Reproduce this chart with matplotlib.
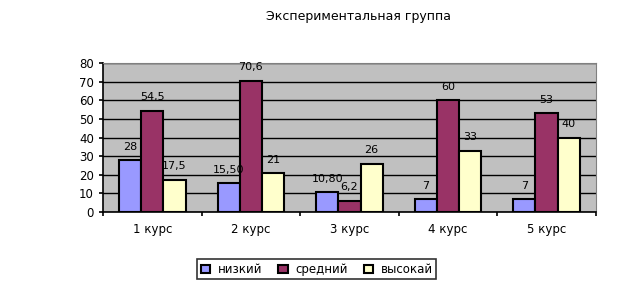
import matplotlib.pyplot as plt
import numpy as np

plt.rcParams['font.family'] = ['DejaVu Sans']

courses = ['1 курс', '2 курс', '3 курс', '4 курс', '5 курс']
series = ['низкий', 'средний', 'высокай']
low = [28, 15.5, 10.8, 7, 7]
mid = [54.5, 70.6, 6.2, 60, 53]
high = [17.5, 21, 26, 33, 40]
low_txt = ['28', '15,50', '10,80', '7', '7']
mid_txt = ['54,5', '70,6', '6,2', '60', '53']
high_txt = ['17,5', '21', '26', '33', '40']
colors = ['#9999FF', '#993366', '#FFFFCC']

fig = plt.figure(figsize=(6.4, 2.95), dpi=100)
ax = fig.add_axes([0.161, 0.281, 0.77, 0.505])
ax.set_facecolor('#C0C0C0')

x = np.arange(len(courses))
w = 0.225
for i, (vals, txts) in enumerate([(low, low_txt), (mid, mid_txt), (high, high_txt)]):
    bars = ax.bar(x + (i - 1) * w, vals, w, color=colors[i], edgecolor='black',
                  linewidth=1.5, label=series[i], zorder=3)
    for b, t in zip(bars, txts):
        ax.annotate(t, (b.get_x() + b.get_width() / 2, b.get_height()),
                    xytext=(0, 6), textcoords='offset points',
                    ha='center', va='bottom', fontsize=8, zorder=4)

ax.set_xlim(-0.5, len(courses) - 0.5)
ax.set_ylim(0, 80)
ax.set_yticks(range(0, 81, 10))
ax.yaxis.grid(True, color='black', linewidth=1, zorder=0)
ax.set_axisbelow(True)
ax.set_xticks(x)
ax.set_xticklabels(courses)
ax.set_xticks(np.arange(-0.5, len(courses)), minor=True)
ax.tick_params(axis='x', which='major', length=0, labelsize=8.5, pad=8)
ax.tick_params(axis='x', which='minor', length=3, width=1.2, direction='out')
ax.tick_params(axis='y', labelsize=8.5, length=3, width=1.2, direction='out')
for s in ['top', 'right']:
    ax.spines[s].set_color('#808080')
ax.spines['left'].set_linewidth(1.2)
ax.spines['bottom'].set_linewidth(1.2)

fig.text(0.56, 0.945, 'Экспериментальная группа', ha='center', va='center', fontsize=9)

leg = fig.legend(loc='center', bbox_to_anchor=(0.495, 0.087), ncol=3, fontsize=8.5,
                 frameon=True, fancybox=False, edgecolor='black', handlelength=0.8,
                 handleheight=0.7, handletextpad=0.6, columnspacing=1.4,
                 borderpad=0.3)
leg.get_frame().set_linewidth(1.2)

fig.savefig('out.png', dpi=100)
